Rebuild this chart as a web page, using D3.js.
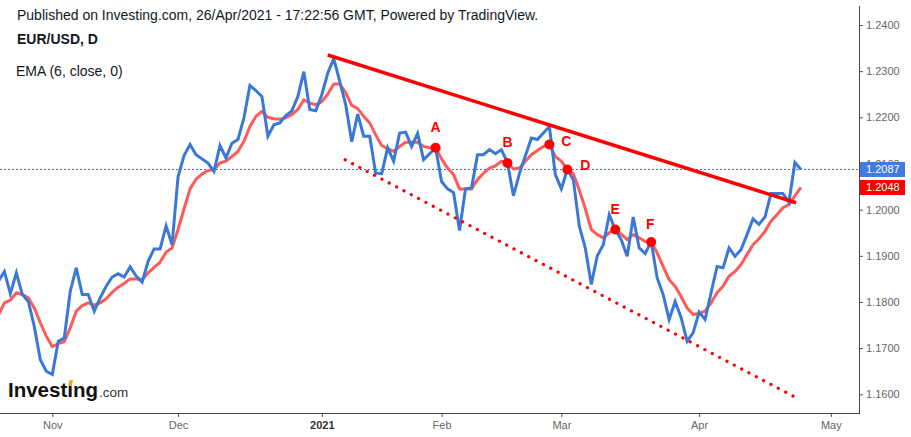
<!DOCTYPE html>
<html>
<head>
<meta charset="utf-8">
<script src="https://cdn.jsdelivr.net/npm/d3@7"></script>
<style>
  body { margin: 0; background: #fff; }
  svg { display: block; font-family: "Liberation Sans", Arial, sans-serif; }
</style>
</head>
<body>
<div id="chart"></div>
<script>
const width = 911;
const height = 437;
const plotRight = 859;
const plotBottom = 413;

// daily closes, EUR/USD, grouped by month (bar index 0 = 20 Oct 2020)
const closeOct = [1.1845, 1.1866, 1.1818, 1.1863, 1.1816, 1.1801, 1.1747, 1.1675, 1.1650];
const closeNov = [1.1643, 1.1715, 1.1722, 1.1823, 1.1874, 1.1816, 1.1816, 1.1780, 1.1809, 1.1834, 1.1854,
                  1.1861, 1.1854, 1.1876, 1.1856, 1.1843, 1.1888, 1.1915, 1.1915, 1.1965, 1.1924];
const closeDec = [1.2071, 1.2117, 1.2141, 1.2119, 1.2110, 1.2101, 1.2083, 1.2139, 1.2112, 1.2144, 1.2152, 1.2199,
                  1.2269, 1.2258, 1.2245, 1.2159, 1.2184, 1.2188, 1.2204, 1.2214, 1.2245, 1.2299, 1.2217, 1.2214];
const closeJan = [1.2249, 1.2296, 1.2327, 1.2278, 1.2227, 1.2147, 1.2207, 1.2159, 1.2159, 1.2079,
                  1.2078, 1.2134, 1.2105, 1.2166, 1.2168, 1.2137, 1.2165, 1.2108, 1.2121, 1.2134];
const closeFeb = [1.2061, 1.2045, 1.2037, 1.1955, 1.2045, 1.2047, 1.2119, 1.2119, 1.2130, 1.2121,
                  1.2130, 1.2102, 1.2030, 1.2078, 1.2117, 1.2155, 1.2152, 1.2166, 1.2180, 1.2076];
const closeMar = [1.2045, 1.2087, 1.2065, 1.1964, 1.1917, 1.1838, 1.1900, 1.1924, 1.1989, 1.1957, 1.1935, 1.1899,
                  1.1984, 1.1917, 1.1905, 1.1931, 1.1852, 1.1816, 1.1762, 1.1801, 1.1766, 1.1715, 1.1733];
const closeApr = [1.1778, 1.1762, 1.1820, 1.1877, 1.1874, 1.1917, 1.1899, 1.1913, 1.1946,
                  1.1980, 1.1968, 1.1984, 1.2035, 1.2035, 1.2035, 1.2016, 1.2102, 1.2087];

// EMA (6, close, 0)
const emaOct = [1.1771, 1.1798, 1.1804, 1.1820, 1.1816, 1.1809, 1.1787, 1.1755, 1.1726];
const emaNov = [1.1703, 1.1710, 1.1714, 1.1744, 1.1780, 1.1792, 1.1798, 1.1793, 1.1798, 1.1807, 1.1821,
                1.1832, 1.1840, 1.1850, 1.1850, 1.1848, 1.1863, 1.1875, 1.1886, 1.1908, 1.1917];
const emaDec = [1.1957, 1.2002, 1.2045, 1.2066, 1.2077, 1.2085, 1.2087, 1.2101, 1.2105, 1.2115, 1.2126, 1.2148,
                1.2180, 1.2202, 1.2213, 1.2200, 1.2197, 1.2196, 1.2199, 1.2206, 1.2217, 1.2238, 1.2231, 1.2227];
const emaJan = [1.2234, 1.2250, 1.2272, 1.2272, 1.2253, 1.2226, 1.2219, 1.2202, 1.2188, 1.2162,
                1.2139, 1.2132, 1.2126, 1.2137, 1.2146, 1.2146, 1.2146, 1.2137, 1.2134, 1.2134];
const emaFeb = [1.2110, 1.2090, 1.2076, 1.2045, 1.2045, 1.2045, 1.2065, 1.2079, 1.2090, 1.2095,
                1.2105, 1.2101, 1.2088, 1.2090, 1.2105, 1.2119, 1.2128, 1.2137, 1.2141, 1.2115];
const emaMar = [1.2105, 1.2087, 1.2078, 1.2042, 1.2002, 1.1957, 1.1946, 1.1939, 1.1950, 1.1957, 1.1947, 1.1935,
                1.1946, 1.1939, 1.1931, 1.1930, 1.1906, 1.1877, 1.1848, 1.1834, 1.1812, 1.1787, 1.1773];
const emaApr = [1.1775, 1.1780, 1.1798, 1.1820, 1.1834, 1.1856, 1.1866, 1.1881, 1.1903,
                1.1924, 1.1937, 1.1953, 1.1975, 1.1989, 1.2004, 1.2011, 1.2030, 1.2048];

// month ticks (bar index of first bar of the month)
const monthLabels = ["Nov", "Dec", "2021", "Feb", "Mar", "Apr", "May"];
const monthIndex = [9, 30, 54, 74, 94, 117, 139];

const priceTicks = [1.16, 1.17, 1.18, 1.19, 1.20, 1.21, 1.22, 1.23, 1.24];

// annotated points on the EMA
const pointLabels = ["A", "B", "C", "D", "E", "F"];
const pointIndex = [73, 85, 92, 95, 103, 109];

// trend lines: [bar index, price]
const resistance = [[55.0, 1.2335], [133.2, 1.2015]];
const support = [[57.9, 1.2108], [133.0, 1.1594]];

const closes = [].concat(closeOct, closeNov, closeDec, closeJan, closeFeb, closeMar, closeApr);
const ema = [].concat(emaOct, emaNov, emaDec, emaJan, emaFeb, emaMar, emaApr);
const lastClose = closes[closes.length - 1];
const lastEma = ema[ema.length - 1];

const svg = d3.select("#chart").append("svg")
    .attr("width", width)
    .attr("height", height);

const x = d3.scaleLinear().domain([0.27, 143.7]).range([0, plotRight]);
const y = d3.scaleLinear().domain([1.16, 1.24]).range([394.3, 25]);

svg.append("defs").append("clipPath").attr("id", "plot")
  .append("rect").attr("x", 0).attr("y", 0).attr("width", plotRight).attr("height", plotBottom);

// header texts
svg.append("text").attr("x", 17).attr("y", 20)
    .style("font-size", "14px").style("fill", "#131722")
    .text("Published on Investing.com, 26/Apr/2021 - 17:22:56 GMT, Powered by TradingView.");
svg.append("text").attr("x", 17).attr("y", 44)
    .style("font-size", "14px").style("font-weight", "bold").style("fill", "#131722")
    .text("EUR/USD, D");
svg.append("text").attr("x", 16).attr("y", 76)
    .style("font-size", "14px").style("fill", "#131722")
    .text("EMA (6, close, 0)");

const plot = svg.append("g").attr("clip-path", "url(#plot)");

// last price line
plot.append("line")
    .attr("x1", 0).attr("x2", plotRight)
    .attr("y1", y(lastClose)).attr("y2", y(lastClose))
    .style("stroke", "#3d6fd6").style("stroke-width", 1)
    .style("stroke-dasharray", "2,2");

const line = d3.line().x((d, i) => x(i)).y(d => y(d));

plot.append("path").datum(ema)
    .attr("d", line)
    .style("fill", "none").style("stroke", "#ff5a5a")
    .style("stroke-width", 3).style("stroke-linejoin", "round");

plot.append("path").datum(closes)
    .attr("d", line)
    .style("fill", "none").style("stroke", "#3a78d8")
    .style("stroke-width", 3).style("stroke-linejoin", "miter");

const trend = d3.line().x(d => x(d[0])).y(d => y(d[1]));

plot.append("path").datum(resistance)
    .attr("d", trend)
    .style("fill", "none").style("stroke", "#ff0000").style("stroke-width", 3.5);

plot.append("path").datum(support)
    .attr("d", trend)
    .style("fill", "none").style("stroke", "#ff0000").style("stroke-width", 3.2)
    .style("stroke-linecap", "round").style("stroke-dasharray", "0.1,8.2");

// markers
const labelOffset = { A: [0, -16], B: [0, -16], C: [17, 1], D: [18, 1], E: [0, -15], F: [-1, -13] };
const marks = plot.selectAll(".mark")
  .data(pointLabels.map((l, k) => ({ label: l, i: pointIndex[k], v: ema[pointIndex[k]] })))
  .join("g").attr("class", "mark");
marks.append("circle")
    .attr("cx", d => x(d.i)).attr("cy", d => y(d.v)).attr("r", 5)
    .style("fill", "#ff0000");
marks.append("text")
    .attr("x", d => x(d.i) + labelOffset[d.label][0])
    .attr("y", d => y(d.v) + labelOffset[d.label][1])
    .attr("text-anchor", "middle")
    .style("font-size", "14px").style("font-weight", "bold").style("fill", "#ff0000")
    .text(d => d.label);

// right price axis
const yAxis = svg.append("g").attr("transform", `translate(${plotRight},0)`)
    .call(d3.axisRight(y).tickValues(priceTicks).tickSize(4).tickPadding(3).tickFormat(d3.format(".4f")));
yAxis.select(".domain").remove();
yAxis.selectAll("line").style("stroke", "#555");
yAxis.selectAll("text").style("font-size", "11px").style("fill", "#666").style("font-family", "'Liberation Sans', Arial, sans-serif");

svg.append("line").attr("x1", plotRight + 0.5).attr("x2", plotRight + 0.5).attr("y1", 6).attr("y2", plotBottom)
    .style("stroke", "#444").style("stroke-width", 1);

// bottom time axis
const xAxis = svg.append("g").attr("transform", `translate(0,${plotBottom})`)
    .call(d3.axisBottom(x).tickValues(monthIndex).tickSize(4).tickPadding(4)
      .tickFormat((d, k) => monthLabels[k]));
xAxis.select(".domain").remove();
xAxis.selectAll("line").style("stroke", "#555");
xAxis.selectAll("text").style("font-size", "11px")
    .style("font-family", "'Liberation Sans', Arial, sans-serif")
    .style("font-weight", (d, k) => monthLabels[k] === "2021" ? "bold" : "normal")
    .style("fill", (d, k) => monthLabels[k] === "2021" ? "#333" : "#666");

svg.append("line").attr("x1", 0).attr("x2", plotRight + 1).attr("y1", plotBottom + 0.5).attr("y2", plotBottom + 0.5)
    .style("stroke", "#444").style("stroke-width", 1);

// price badges
const badges = [{ v: lastClose, c: "#3f7be0" }, { v: lastEma, c: "#ff0000" }];
const badge = svg.selectAll(".badge").data(badges).join("g").attr("class", "badge");
badge.append("rect")
    .attr("x", plotRight + 1).attr("y", d => y(d.v) - 7.5)
    .attr("width", 45).attr("height", 15)
    .style("fill", d => d.c);
badge.append("text")
    .attr("x", plotRight + 7).attr("y", d => y(d.v) + 4)
    .style("font-size", "11px").style("fill", "#fff")
    .text(d => d3.format(".4f")(d.v));

// Investing.com logo
const logo = svg.append("text").attr("x", 8).attr("y", 397)
    .style("font-size", "20.5px").style("font-weight", "bold").style("fill", "#111");
logo.append("tspan").text("Invest\u0131ng");
logo.append("tspan").attr("dx", 1)
    .style("font-size", "13.5px").style("font-weight", "normal").style("fill", "#333")
    .text(".com");
const iStart = logo.node().getStartPositionOfChar(6).x;
const iEnd = logo.node().getEndPositionOfChar(6).x;
const ic = (iStart + iEnd) / 2;
svg.append("polygon")
    .attr("points", [[ic - 2, 386], [ic + 1.5, 386], [ic + 3, 380], [ic - 0.5, 380]].map(p => p.join(",")).join(" "))
    .style("fill", "#f7a21b");
</script>
</body>
</html>
